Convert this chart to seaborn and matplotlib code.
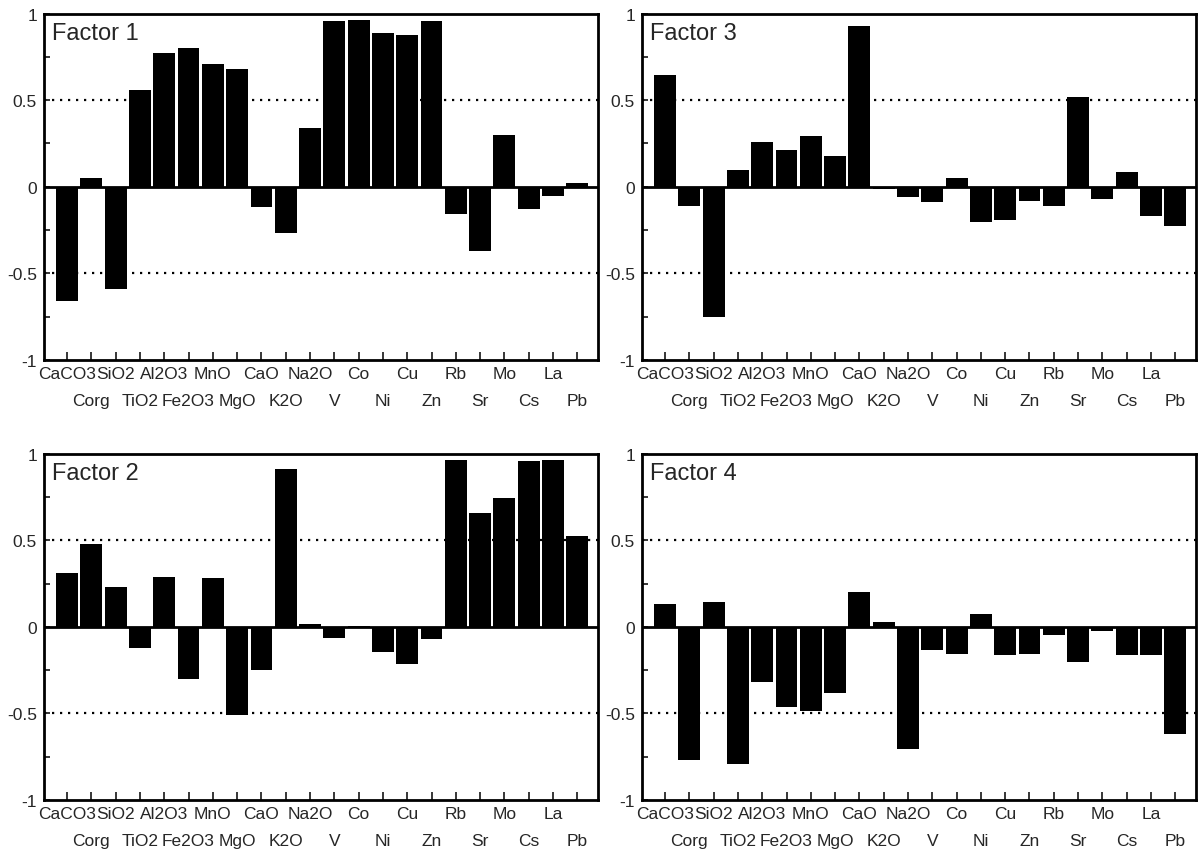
import numpy as np
import pandas as pd
import matplotlib
matplotlib.use("Agg")
import matplotlib.pyplot as plt
import seaborn as sns

# Variables (x axis), in plotting order
elements = ["CaCO3", "Corg", "SiO2", "TiO2", "Al2O3", "Fe2O3", "MnO", "MgO",
            "CaO", "K2O", "Na2O", "V", "Co", "Ni", "Cu", "Zn",
            "Rb", "Sr", "Mo", "Cs", "La", "Pb"]

# Factor loadings
factor1 = [-0.66, 0.05, -0.59, 0.56, 0.77, 0.80, 0.71, 0.68,
           -0.115, -0.27, 0.34, 0.955, 0.965, 0.885, 0.875, 0.955,
           -0.16, -0.37, 0.30, -0.13, -0.055, 0.02]
factor2 = [0.31, 0.48, 0.23, -0.12, 0.285, -0.30, 0.28, -0.51,
           -0.25, 0.91, 0.015, -0.065, 0.005, -0.145, -0.215, -0.07,
           0.965, 0.655, 0.745, 0.955, 0.965, 0.525]
factor3 = [0.645, -0.11, -0.755, 0.095, 0.26, 0.21, 0.29, 0.175,
           0.93, -0.015, -0.06, -0.09, 0.05, -0.205, -0.195, -0.085,
           -0.11, 0.515, -0.07, 0.085, -0.17, -0.225]
factor4 = [0.13, -0.77, 0.145, -0.795, -0.32, -0.465, -0.485, -0.385,
           0.20, 0.03, -0.705, -0.135, -0.155, 0.075, -0.165, -0.155,
           -0.05, -0.205, -0.025, -0.165, -0.16, -0.62]

y_ticks = [-1, -0.5, 0, 0.5, 1]
y_ticklabels = ["-1", "-0.5", "0", "0.5", "1"]

sns.set_style("ticks")
plt.rcParams["font.family"] = ["Liberation Sans", "DejaVu Sans"]
plt.rcParams["axes.unicode_minus"] = False


def draw_panel(ax, values, title):
    df = pd.DataFrame({"element": elements, "loading": values})
    sns.barplot(data=df, x="element", y="loading", order=elements,
                color="black", saturation=1, width=0.9, errorbar=None,
                linewidth=0, ax=ax, zorder=2)

    ax.set_xlim(-0.95, 21.85)
    ax.set_ylim(-1, 1)

    # reference lines
    ax.axhline(0, color="black", lw=2.0, zorder=3)
    for yv in (0.5, -0.5):
        ax.axhline(yv, color="black", lw=1.6, ls=(0, (1, 2.6)), zorder=1)

    # alternating two-row tick labels: even on the first row, odd on the second
    ax.set_xticks(range(0, len(elements), 2))
    ax.set_xticklabels(elements[0::2])
    ax.set_xticks(range(1, len(elements), 2), minor=True)
    ax.set_xticklabels(elements[1::2], minor=True)
    ax.tick_params(axis="x", which="both", direction="in", length=6,
                   width=1.3, labelsize=12.5, top=False)
    ax.tick_params(axis="x", which="major", pad=4.5)
    ax.tick_params(axis="x", which="minor", pad=24)

    ax.set_yticks(y_ticks)
    ax.set_yticklabels(y_ticklabels)
    ax.set_yticks([-0.75, -0.25, 0.25, 0.75], minor=True)
    ax.tick_params(axis="y", which="both", direction="in", length=4,
                   width=1.3, labelsize=12.5, pad=5, right=False)

    ax.set_xlabel("")
    ax.set_ylabel("")
    for side in ["left", "right", "top", "bottom"]:
        ax.spines[side].set_visible(True)
        ax.spines[side].set_linewidth(2.0)
        ax.spines[side].set_color("black")

    ax.text(0.014, 0.975, title, transform=ax.transAxes, ha="left", va="top",
            fontsize=17)


fig = plt.figure(figsize=(11.99, 8.53), dpi=100)

w = 0.462
h = 0.406
ax1 = fig.add_axes([0.0367, 0.577, w, h])
ax3 = fig.add_axes([0.5354, 0.577, w, h])
ax2 = fig.add_axes([0.0367, 0.061, w, h])
ax4 = fig.add_axes([0.5354, 0.061, w, h])

draw_panel(ax1, factor1, "Factor 1")
draw_panel(ax2, factor2, "Factor 2")
draw_panel(ax3, factor3, "Factor 3")
draw_panel(ax4, factor4, "Factor 4")

fig.savefig("out.png", dpi=100)
